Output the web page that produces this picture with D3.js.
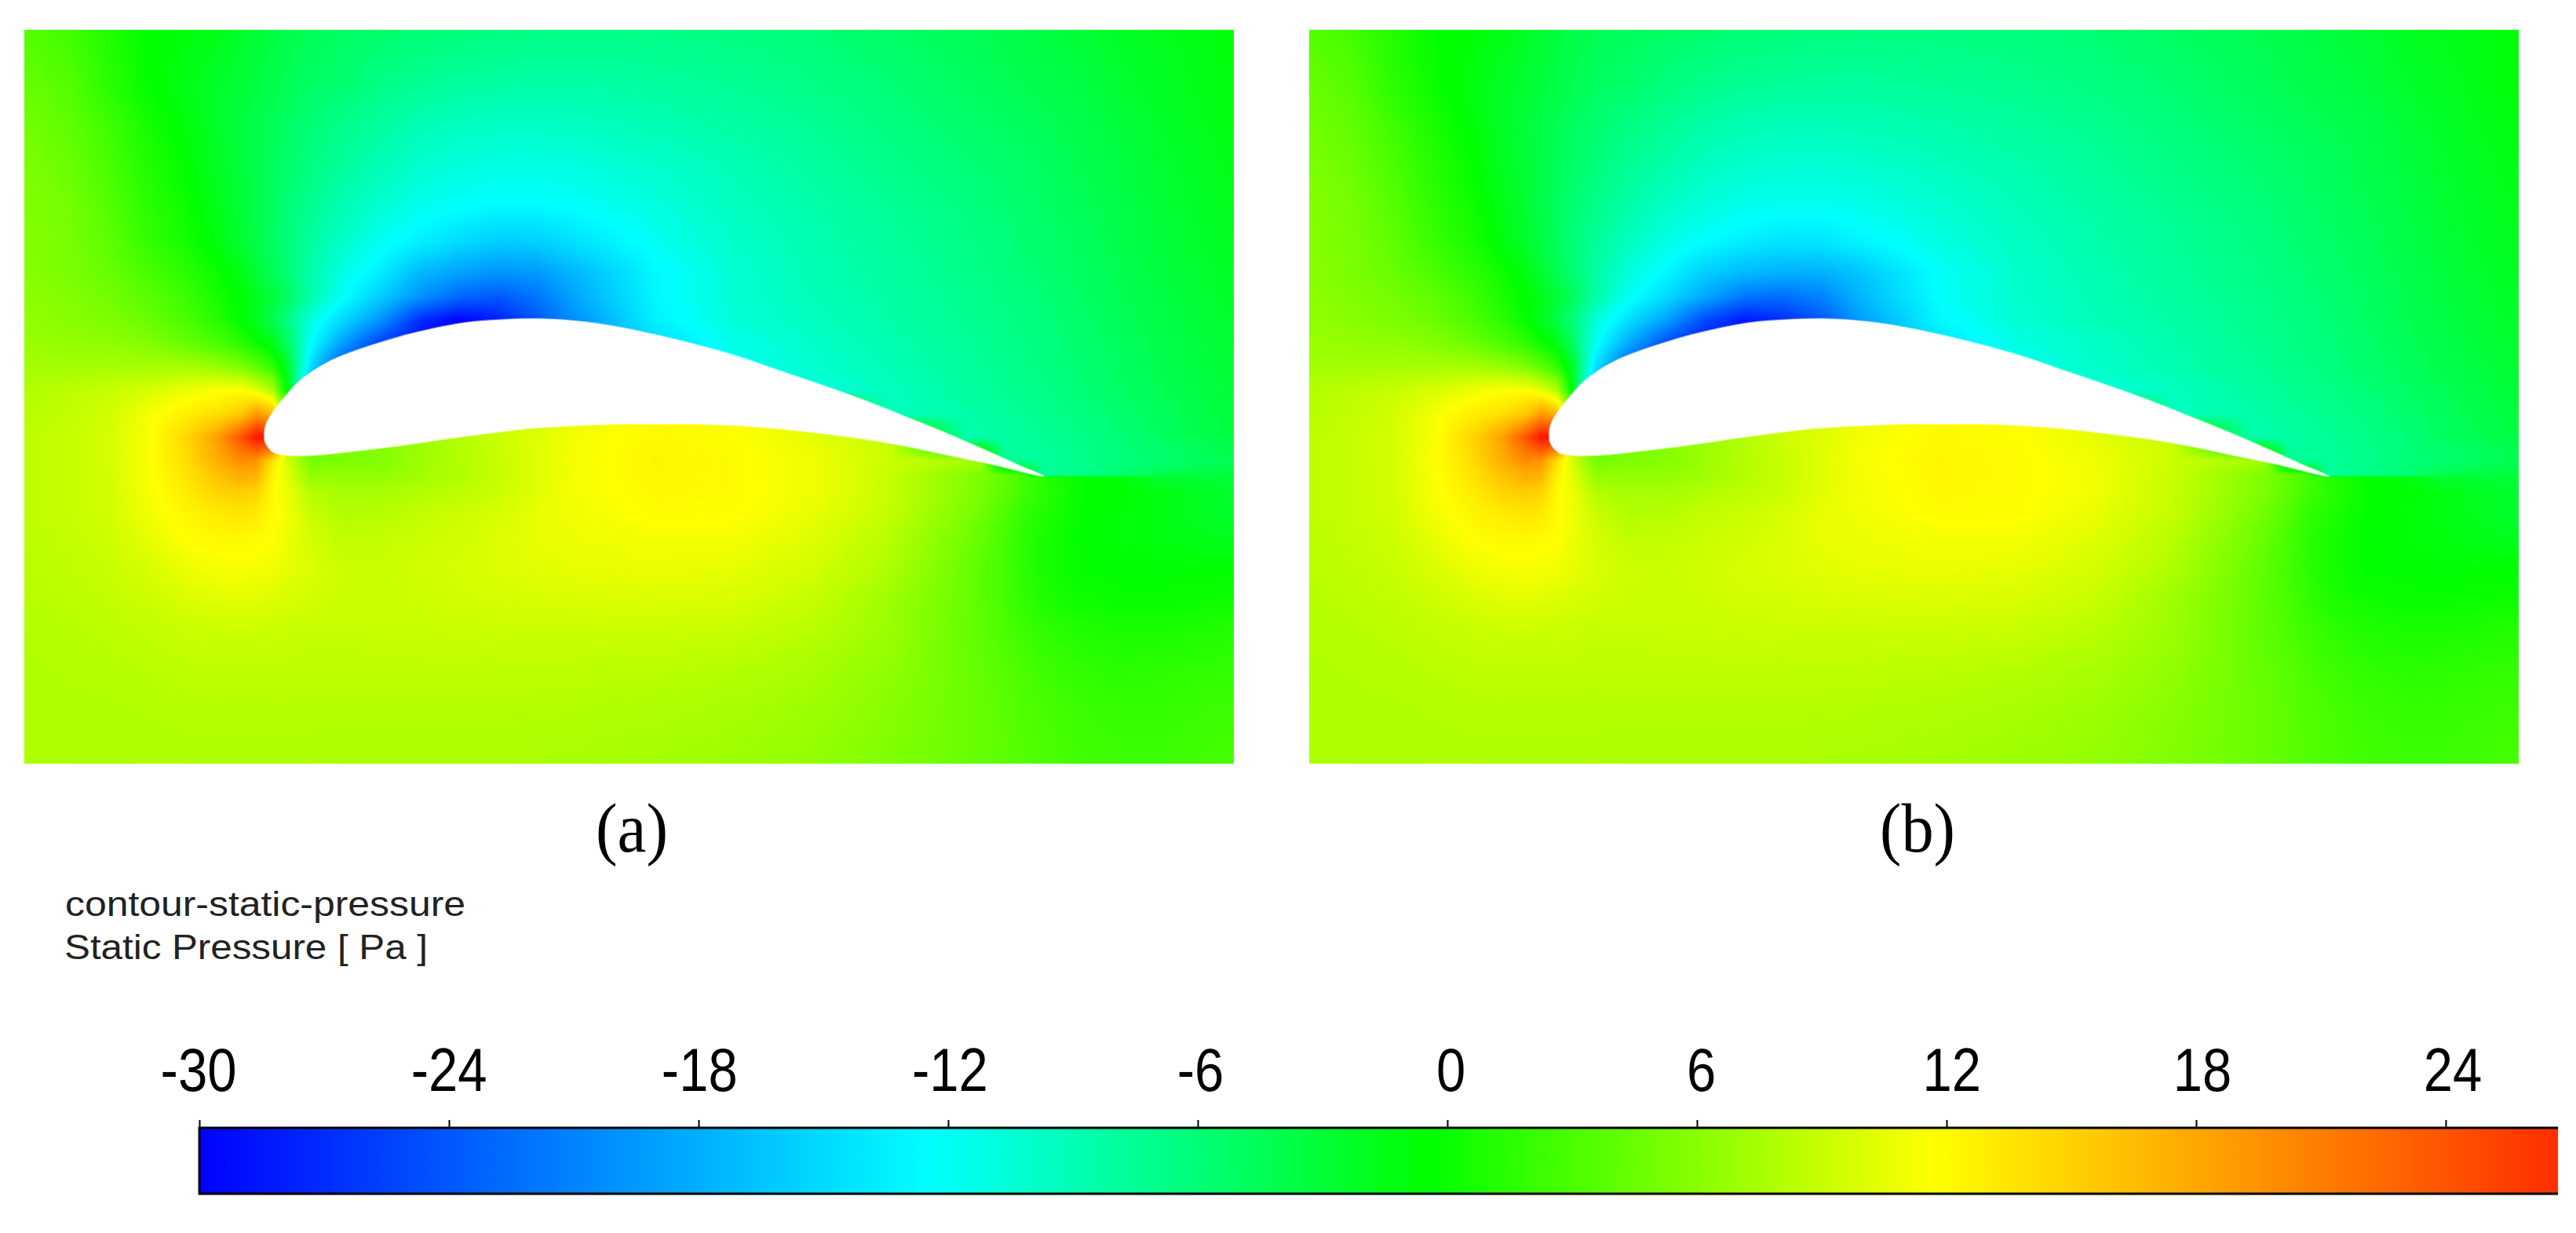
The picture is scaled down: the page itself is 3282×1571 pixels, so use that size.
<!DOCTYPE html>
<html>
<head>
<meta charset="utf-8">
<script src="https://cdn.jsdelivr.net/npm/d3@7"></script>
<style>
  html, body { margin: 0; background: #fff; }
  svg { display: block; }
</style>
</head>
<body>
<svg id="chart" width="3282" height="1571"></svg>
<script>
// colour bar
const tickValues = [-30, -24, -18, -12, -6, 0, 6, 12, 18, 24];
const barEndValue = 26.7;
const colorStops = [-30, -12.5, -0.5, 11.7, 30];
const colorNames = ["#0000ff", "#00ffff", "#00ff00", "#ffff00", "#ff0000"];

const panelLabels = ["(a)", "(b)"];
const captionLines = ["contour-static-pressure", "Static Pressure [ Pa ]"];

// airfoil outline, x/c and y/c
const upperX = [0, .002, .013, .03, .046, .081, .114, .147, .181, .214, .257, .308, .354, .411, .462, .504, .557, .610, .662, .715, .768, .821, .873, .926, .968, 1];
const upperY = [.052, .066, .085, .106, .123, .146, .160, .171, .181, .189, .197, .201, .202, .198, .190, .181, .168, .153, .135, .117, .098, .077, .056, .033, .014, 0];
const lowerX = [.926, .873, .821, .768, .715, .662, .610, .557, .504, .451, .399, .346, .293, .241, .214, .164, .114, .063, .030, .013, .005, .001];
const lowerY = [.017, .028, .039, .048, .055, .061, .065, .067, .067, .067, .065, .062, .056, .049, .045, .038, .032, .027, .027, .030, .037, .044];

// static pressure read by eye from the contour colours
const gridX = [-.308, -.25, -.2, -.15, -.1, -.06, -.03, -.01, .01, .03, .06, .1, .15, .2, .25, .3, .35, .4, .5, .6, .7, .8, .9, .92, .95, .975, 1, 1.05, 1.1, 1.15, 1.244];
const gridY = [.573, .5, .45, .4, .35, .3, .26, .23, .2, .17, .14, .11, .08, .05, .02, .001, -.001, -.02, -.05, -.08, -.12, -.16, -.2, -.25, -.3, -.369];

// rows y = .573 to .14 over the airfoil, panel (a)
const pressureUpperA = [
  [3.5, 2.5, 1, -0.5, -1, -1.5, -2.5, -3, -3.5, -4, -4.5, -5, -5.5, -6, -6.2, -6.5, -6.7, -6.8, -6.8, -6.5, -6, -5.2, -4.5, -4.3, -4, -3.7, -3.5, -3, -2.2, -1.8, -1],
  [4.5, 3.5, 1.5, -0.3, -1.5, -2.5, -3, -3.5, -4, -4.5, -5.2, -5.8, -6.8, -7.5, -8, -8.2, -8.4, -8.4, -8, -7.5, -6.8, -6, -5, -4.8, -4.5, -4.2, -4, -3.5, -2.8, -2.2, -1],
  [5, 4, 2.5, 0.5, -1, -2.5, -3.5, -4, -4.5, -5.2, -6, -7, -8, -9, -9.5, -9.8, -9.8, -9.6, -9, -8.2, -7.5, -6.5, -5.5, -5.3, -5, -4.7, -4.5, -4, -3.2, -2.5, -1.2],
  [5.5, 4.5, 3, 1, -0.5, -2.2, -3.2, -4, -4.8, -5.5, -6.5, -7.8, -9, -10.2, -10.8, -11.2, -11.2, -11, -10, -9, -8, -7, -6, -5.8, -5.5, -5.2, -5, -4.2, -3.5, -2.8, -1.5],
  [5.8, 5, 3.5, 1.5, 0, -1.8, -3, -4, -5, -6, -7.2, -8.8, -10.3, -11.5, -12.2, -12.6, -12.6, -12.2, -11, -9.5, -8.5, -7.5, -6.5, -6.2, -5.9, -5.5, -5.2, -4.5, -3.8, -3, -1.8],
  [5.9, 5.2, 4, 2, 0.5, -1.2, -2.8, -3.8, -5, -6.2, -8, -10, -12, -13.5, -15, -16, -15.8, -14.5, -12, -10, -8.8, -7.8, -6.8, -6.6, -6.2, -5.8, -5.5, -4.8, -4, -3.2, -2],
  [6, 5.3, 4.5, 3, 1.5, 0, -1.5, -3, -4.5, -6, -8.5, -11.2, -13.8, -17.5, -19, -20, -19.5, -17.5, -13, -10.5, -9, -8, -7, -6.8, -6.4, -6.1, -5.8, -5, -4.2, -3.4, -2.2],
  [6.3, 5.7, 5, 3.8, 2.3, 0.5, -0.8, -1.8, -3.2, -5, -8.5, -12.2, -16, -20, -23, -24, -22, -18.5, -13, -10.5, -9.2, -8.2, -7.2, -7, -6.6, -6.3, -6, -5.2, -4.4, -3.6, -2.3],
  [6.5, 6, 5.5, 4.5, 3, 1.3, -0.5, -2, -4, -6.5, -11, -15, -20, -27, -30, -28, -24, -20, -13.5, -10.8, -9.5, -8.4, -7.4, -7.2, -6.8, -6.5, -6.2, -5.4, -4.5, -3.8, -2.5],
  [6.9, 6.6, 6.4, 5.8, 4.5, 3, 1.5, 0, -1.5, -5, -12.5, -19, -26, -30, -30, -28, -25, -20, -15, -11.5, -10, -8.8, -7.6, -7.4, -7, -6.7, -6.4, -5.6, -4.8, -4, -2.7],
  [7.3, 7.4, 7.5, 7.5, 7.5, 6.8, 5.5, 4, 2, -2.5, -15, -25, -29, -30, -30, -28, -24, -18, -14, -12, -10.3, -9, -7.8, -7.6, -7.2, -6.9, -6.6, -5.8, -5, -4.2, -2.8]
];

// same rows for panel (b), the suction lobe sits a little lower
const pressureUpperB = [
  [3.5, 2.5, 1, -0.3, -0.8, -1.3, -2.3, -2.8, -3.3, -3.8, -4.3, -4.8, -5.2, -5.7, -5.9, -6.2, -6.4, -6.5, -6.5, -6.2, -5.8, -5, -4.3, -4.1, -3.8, -3.5, -3.3, -2.8, -2, -1.6, -0.8],
  [4.5, 3.5, 1.5, 0, -1.2, -2.2, -2.8, -3.3, -3.8, -4.3, -5, -5.5, -6.4, -7, -7.5, -7.7, -7.9, -7.9, -7.6, -7.2, -6.5, -5.8, -4.8, -4.6, -4.3, -4, -3.8, -3.3, -2.6, -2, -0.8],
  [5, 4, 2.5, 0.7, -0.8, -2.3, -3.2, -3.8, -4.3, -5, -5.7, -6.6, -7.5, -8.4, -8.9, -9.2, -9.2, -9, -8.5, -7.9, -7.2, -6.3, -5.3, -5.1, -4.8, -4.5, -4.3, -3.8, -3, -2.3, -1],
  [5.5, 4.5, 3, 1.2, -0.3, -2, -3, -3.8, -4.6, -5.3, -6.2, -7.4, -8.5, -9.5, -10.1, -10.4, -10.4, -10.2, -9.4, -8.6, -7.7, -6.8, -5.8, -5.6, -5.3, -5, -4.8, -4, -3.3, -2.6, -1.3],
  [5.8, 5, 3.5, 1.7, 0.2, -1.6, -2.8, -3.8, -4.8, -5.8, -6.9, -8.3, -9.7, -10.7, -11.4, -11.8, -11.8, -11.4, -10.3, -9.1, -8.2, -7.3, -6.3, -6, -5.7, -5.3, -5, -4.3, -3.6, -2.8, -1.6],
  [5.9, 5.2, 4, 2.2, 0.7, -1, -2.6, -3.6, -4.8, -6, -7.7, -9.5, -11.3, -12.6, -13.7, -14.4, -14.3, -13.2, -11.2, -9.6, -8.5, -7.6, -6.6, -6.4, -6, -5.6, -5.3, -4.6, -3.8, -3, -1.8],
  [6, 5.3, 4.5, 3.2, 1.7, 0.2, -1.3, -2.8, -4.3, -5.8, -8.2, -10.7, -13, -16, -17.3, -18, -18, -16.5, -12.2, -10.1, -8.8, -7.8, -6.8, -6.6, -6.2, -5.9, -5.6, -4.8, -4, -3.2, -2],
  [6.3, 5.7, 5, 4, 2.5, 0.7, -0.6, -1.6, -3, -4.8, -8.2, -11.8, -15, -18.5, -22, -22.5, -21, -17.5, -12.3, -10.1, -9, -8, -7, -6.8, -6.4, -6.1, -5.8, -5, -4.2, -3.4, -2.1],
  [6.5, 6, 5.5, 4.7, 3.2, 1.5, -0.3, -1.8, -3.8, -6.3, -10.7, -14.5, -19, -25, -28.5, -27, -24, -19, -13, -10.5, -9.2, -8.2, -7.2, -7, -6.6, -6.3, -6, -5.2, -4.3, -3.6, -2.3],
  [6.9, 6.6, 6.4, 5.9, 4.7, 3.2, 1.7, 0.2, -1.3, -4.8, -12, -18, -25, -29, -29, -27, -24, -19, -14.5, -11.2, -9.8, -8.6, -7.4, -7.2, -6.8, -6.5, -6.2, -5.4, -4.6, -3.8, -2.5],
  [7.3, 7.4, 7.5, 7.5, 7.5, 6.8, 5.5, 4, 2, -2.3, -14.5, -24, -28, -29, -29, -27, -23, -17, -13.5, -11.7, -10, -8.8, -7.6, -7.4, -7, -6.7, -6.4, -5.6, -4.8, -4, -2.6]
];

// rows y = .11 down to -.369, both panels
const pressureLower = [
  [8, 8.5, 9, 9.8, 10.8, 11.6, 11.8, 10.5, 8, -1, -20, -25, -28, -25, -25, -20, -10, -5, 0, -11, -11, -9.5, -8, -7.8, -7.4, -7.1, -6.8, -6, -5.2, -4.4, -3],
  [8.2, 8.8, 9.5, 11.2, 12.8, 14, 15.5, 19, 17, 5, 5, 5, 5.5, 6.5, 7.5, 8.5, 9.5, 10.5, 11.8, 11.8, 10.5, -9.5, -8.5, -8.2, -7.8, -7.5, -7.2, -6.4, -5.6, -4.8, -3.2],
  [8.5, 9, 9.7, 11.3, 14.5, 18.5, 24, 28.5, 29, 8, 4.5, 5, 5.8, 7, 8, 9.3, 10.2, 11.2, 12.2, 11.8, 10.5, 9, -8.8, -8.5, -8.2, -7.8, -7.5, -6.8, -6, -5, -3.5],
  [8.5, 9, 9.7, 11.5, 14, 17.5, 20, 19.5, 14, 9.5, 5, 5.5, 5.8, 7, 8, 9, 10.2, 11.3, 12.4, 12, 11, 9.3, 7.5, 7, -7.5, -7.6, -7.8, -7, -6.2, -5.8, -4.2],
  [8.5, 9, 9.6, 11.4, 13.5, 16, 17.5, 17, 12.5, 10.3, 6.5, 6.5, 6.5, 7.2, 8, 9, 10.2, 11.2, 12.3, 12, 11, 9, 6, 5.3, 4.2, 2.5, -7.8, -6.8, -5.8, -4, -3.2],
  [8.5, 9, 9.6, 11.4, 13.5, 16, 17.5, 17, 12.5, 10.3, 6.5, 6.5, 6.5, 7.2, 8, 9, 10.2, 11.2, 12.3, 12, 11, 9, 6, 5.3, 4.2, 2.5, 1.2, -0.4, -1, -2.8, -3.2],
  [8.5, 9, 9.6, 11.2, 13, 14.8, 15.3, 14.8, 12, 10.8, 8, 7.5, 7.5, 8, 8.5, 9.2, 10.3, 11.2, 12.2, 12, 11, 9, 6, 5.3, 3.8, 2.5, 1.5, -0.3, -0.7, -1.3, -2.7],
  [8.5, 9, 9.5, 11, 12.3, 13, 13.5, 13, 12, 11, 9.2, 8, 8.2, 8.8, 9.2, 9.8, 10.6, 11, 11.9, 11.8, 10.6, 8.8, 5.5, 4.7, 3.2, 1.8, 1, -0.4, -0.9, -1.3, -2.6],
  [8.4, 8.8, 9.3, 10.5, 11.7, 12.2, 12.2, 12, 11.7, 10.8, 9.6, 8.7, 8.8, 9.2, 9.5, 10, 10.6, 10.8, 11.2, 11.2, 10.2, 8.3, 5, 4.2, 2.8, 1.5, 0.6, -0.5, -0.9, -1.2, -1.8],
  [8.3, 8.6, 9, 9.8, 10.8, 11.2, 11.4, 11.2, 11, 10.5, 9.9, 9.3, 9.2, 9.4, 9.7, 10, 10.3, 10.5, 10.7, 10.5, 9.6, 7.8, 4.6, 3.8, 2.6, 1.5, 0.6, -0.4, -0.6, -0.7, -0.5],
  [8.2, 8.4, 8.7, 9.2, 9.9, 10.2, 10.3, 10.2, 10, 9.8, 9.5, 9.2, 9.1, 9.3, 9.5, 9.6, 9.8, 9.9, 10, 9.8, 9, 7, 4.5, 3.8, 2.8, 1.8, 1, 0.2, -0.1, -0.1, 0.2],
  [8, 8.2, 8.4, 8.7, 9, 9.2, 9.2, 9.2, 9.1, 9, 8.9, 8.9, 9, 9, 9.1, 9.2, 9.2, 9.2, 9.2, 9, 8.3, 6.9, 4.4, 3.9, 3.1, 2.4, 1.8, 1, 0.7, 0.7, 1.2],
  [7.9, 8, 8.1, 8.3, 8.5, 8.6, 8.6, 8.6, 8.6, 8.5, 8.5, 8.5, 8.5, 8.5, 8.5, 8.5, 8.5, 8.5, 8.4, 8.1, 7.5, 6.4, 4.6, 4.2, 3.6, 3, 2.5, 1.8, 1.5, 1.6, 1.9],
  [7.8, 7.9, 7.9, 8, 8.1, 8.2, 8.2, 8.2, 8.2, 8.2, 8.1, 8.1, 8.1, 8.1, 8.1, 8.1, 8.1, 8, 7.8, 7.5, 7, 6, 4.6, 4.3, 3.8, 3.3, 2.9, 2.3, 2, 2, 2.4],
  [7.8, 7.8, 7.8, 7.8, 7.8, 7.8, 7.8, 7.8, 7.8, 7.8, 7.8, 7.7, 7.7, 7.7, 7.7, 7.7, 7.6, 7.5, 7.3, 7, 6.5, 5.6, 4.6, 4.3, 3.9, 3.5, 3.1, 2.6, 2.4, 2.4, 2.8]
];

const svg = d3.select("#chart");
const color = d3.scaleLinear().domain(colorStops).range(colorNames).clamp(true);

const panels = [
  { left: 31, right: 1572, labelX: 805, field: pressureUpperA.concat(pressureLower) },
  { left: 1668, right: 3209, labelX: 2443, field: pressureUpperB.concat(pressureLower) }
];
const panelTop = 38;
const panelBottom = 973;

// colour lookup so the per pixel loop stays quick
const lutSize = 1200;
const lut = d3.range(lutSize).map((i) => d3.rgb(color(-30 + 60 * i / (lutSize - 1))));

function cellIndex(grid, value, descending) {
  let i = 0;
  while (i < grid.length - 2 && (descending ? grid[i + 1] >= value : grid[i + 1] <= value)) i++;
  return i;
}

function fieldImage(field, x, y, width, height) {
  const canvas = document.createElement("canvas");
  canvas.width = width;
  canvas.height = height;
  const ctx = canvas.getContext("2d");
  const img = ctx.createImageData(width, height);
  const left = x.range()[0];
  const top = y.range()[0];
  const cols = d3.range(width).map((px) => {
    const v = x.invert(left + px + 0.5);
    const i = cellIndex(gridX, v, false);
    return [i, (v - gridX[i]) / (gridX[i + 1] - gridX[i])];
  });
  let k = 0;
  for (let py = 0; py < height; py++) {
    const v = y.invert(top + py + 0.5);
    const j = cellIndex(gridY, v, true);
    const t = (v - gridY[j]) / (gridY[j + 1] - gridY[j]);
    const r0 = field[j];
    const r1 = field[j + 1];
    for (let px = 0; px < width; px++) {
      const [i, s] = cols[px];
      const p = (1 - t) * ((1 - s) * r0[i] + s * r0[i + 1]) + t * ((1 - s) * r1[i] + s * r1[i + 1]);
      const c = lut[Math.max(0, Math.min(lutSize - 1, Math.round((p + 30) / 60 * (lutSize - 1))))];
      img.data[k++] = c.r;
      img.data[k++] = c.g;
      img.data[k++] = c.b;
      img.data[k++] = 255;
    }
  }
  ctx.putImageData(img, 0, 0);
  return canvas.toDataURL("image/png");
}

const outline = upperX.map((d, i) => [d, upperY[i]]).concat(lowerX.map((d, i) => [d, lowerY[i]]));

function renderPanel(panel, i) {
  const x = d3.scaleLinear().domain([-.308, 1.244]).range([panel.left, panel.right]);
  const y = d3.scaleLinear().domain([.573, -.369]).range([panelTop, panelBottom]);
  const g = svg.append("g").attr("class", "panel");

  g.append("image")
    .attr("x", panel.left)
    .attr("y", panelTop)
    .attr("width", panel.right - panel.left)
    .attr("height", panelBottom - panelTop)
    .attr("href", fieldImage(panel.field, x, y, panel.right - panel.left, panelBottom - panelTop));

  const line = d3.line()
    .x((d) => x(d[0]))
    .y((d) => y(d[1]))
    .curve(d3.curveCatmullRomClosed.alpha(0.5));

  g.append("path")
    .attr("d", line(outline))
    .attr("fill", "#fff")
    .attr("stroke", "#fff")
    .attr("stroke-opacity", 0.5)
    .attr("stroke-width", 2);

  g.append("text")
    .attr("x", panel.labelX)
    .attr("y", 1085)
    .attr("text-anchor", "middle")
    .attr("font-family", "'Liberation Serif', serif")
    .attr("font-size", 88)
    .attr("textLength", i === 0 ? 92 : 96)
    .attr("lengthAdjust", "spacingAndGlyphs")
    .attr("fill", "#000")
    .text(panelLabels[i]);
}

function renderCaption() {
  const lengths = [510, 463];
  svg.selectAll(".caption")
    .data(captionLines)
    .join("text")
    .attr("class", "caption")
    .attr("x", (d, i) => 83 - i)
    .attr("y", (d, i) => 1167 + i * 55)
    .attr("font-family", "'Liberation Sans', sans-serif")
    .attr("font-size", 45)
    .attr("textLength", (d, i) => lengths[i])
    .attr("lengthAdjust", "spacingAndGlyphs")
    .attr("fill", "#222")
    .text((d) => d);
}

function renderColorBar() {
  const barTop = 1437;
  const barBottom = 1521;
  const x = d3.scaleLinear().domain([-30, 24]).range([254, 3116]);
  const labelX = d3.scaleLinear().domain([-30, 24]).range([253, 3125]);
  const barRight = x(barEndValue);

  const gradientValues = colorStops.filter((d) => d < barEndValue).concat([barEndValue]);
  const gradient = svg.append("defs").append("linearGradient")
    .attr("id", "bar-gradient")
    .attr("x1", 0)
    .attr("x2", 1)
    .attr("y1", 0)
    .attr("y2", 0);
  gradient.selectAll("stop")
    .data(gradientValues)
    .join("stop")
    .attr("offset", (d) => (d + 30) / (barEndValue + 30))
    .attr("stop-color", (d) => color(d));

  svg.append("rect")
    .attr("x", x(-30))
    .attr("y", barTop)
    .attr("width", barRight - x(-30))
    .attr("height", barBottom - barTop)
    .attr("fill", "url(#bar-gradient)");

  svg.append("path")
    .attr("d", `M${barRight},${barTop}H${x(-30)}V${barBottom}H${barRight}`)
    .attr("fill", "none")
    .attr("stroke", "#000")
    .attr("stroke-width", 3);

  const axis = svg.append("g")
    .attr("transform", `translate(0,${barTop})`)
    .call(d3.axisTop(x).tickValues(tickValues).tickSize(10).tickFormat(""));
  axis.select(".domain").remove();
  axis.selectAll("line").attr("stroke", "#000").attr("stroke-width", 2);

  svg.selectAll(".tick-label")
    .data(tickValues)
    .join("text")
    .attr("class", "tick-label")
    .attr("transform", (d) => `translate(${labelX(d)},1390) scale(0.87,1)`)
    .attr("text-anchor", "middle")
    .attr("font-family", "'Liberation Sans', sans-serif")
    .attr("font-size", 77)
    .attr("fill", "#000")
    .text((d) => d);
}

panels.forEach(renderPanel);
renderCaption();
renderColorBar();
</script>
</body>
</html>
